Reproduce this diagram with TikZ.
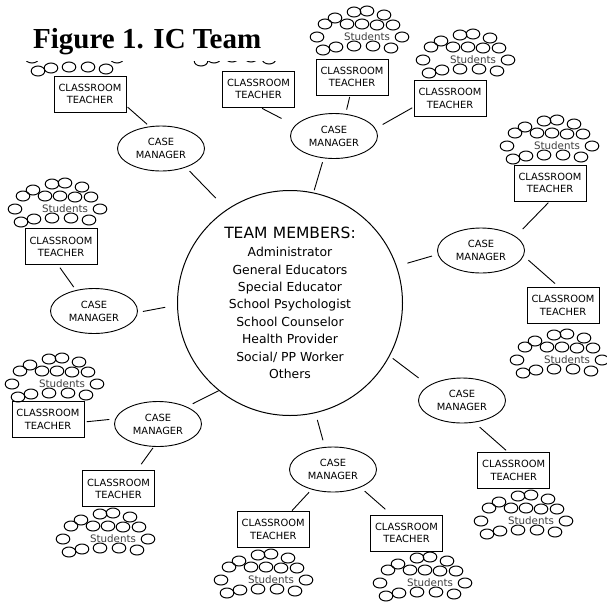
\documentclass[tikz,border=0pt]{standalone}
\usepackage{fontspec}
\setsansfont{DejaVu Sans}
\newfontfamily\titlefont{Liberation Serif}
\usetikzlibrary{shapes.geometric}
\tikzset{
  casemgr/.style={ellipse, draw, line width=0.9pt, minimum width=87pt, minimum height=45pt,
    inner sep=0pt, outer sep=0pt, align=center, font=\sffamily\fontsize{9.9}{13}\selectfont},
  teacherbox/.style={rectangle, draw, line width=0.9pt, minimum width=72pt, minimum height=36pt,
    inner sep=0pt, outer sep=0pt, align=center, font=\sffamily\fontsize{9.9}{12.5}\selectfont},
  link/.style={line width=0.9pt},
  stu/.style={line width=1pt},
  seats/.pic={
    \foreach \dx/\dy in {-13/-25,0/-26,17/-22,
                         -42/-13,-32/-19,-20/-13,-5/-13,10/-12,26/-12,
                         -50/0,35/0,
                         -44/13,-31/10,-13/9,6/9,24/11}
      \draw[stu] (\dx,\dy) ellipse [x radius=6.8pt, y radius=5pt];
  },
  students/.pic={
    \pic {seats};
    \node[inner sep=0pt, text=black!75, font=\sffamily\fontsize{10.3}{12}\selectfont] (-t) at (0,0) {Students};
  }
}
\begin{document}
\begin{tikzpicture}[x=1pt,y=-1pt]
\useasboundingbox (0,0) rectangle (607,603);

% student groups (the two top-left ones are mostly hidden by the title band)
\pic (s1) at (82,58) {seats};
\pic (s2) at (245,48) {seats};
\pic (s3) at (367,37) {students};
\pic (s4) at (473,60) {students};
\pic (s5) at (557,146) {students};
\pic (s6) at (567,360) {students};
\pic (s7) at (65,209) {students};
\pic (s8) at (62,384) {students};
\pic (s9) at (113,539) {students};
\pic (s10) at (271,580) {students};
\pic (s11) at (430,583) {students};
\pic (s12) at (531,521) {students};

% title band
\fill[white] (0,0) rectangle (300,60.5);
\node[anchor=base west, inner sep=0pt, font=\titlefont\bfseries\fontsize{29}{34}\selectfont] (title) at (33,48) {Figure 1. IC Team};

% central circle
\node[circle, draw, line width=1pt, minimum size=225pt, inner sep=0pt, outer sep=0pt, align=center,
      font=\sffamily\fontsize{12.4}{17.4}\selectfont] (team) at (290,303)
  {{\fontsize{15.5}{17.4}\selectfont TEAM\hspace{0.35em}MEMBERS:}\\[0.6pt]
   Administrator\\ General Educators\\ Special Educator\\ School Psychologist\\
   School Counselor\\ Health Provider\\ Social/ PP Worker\\ Others};

% case managers
\node[casemgr] (cm1) at (161,148.5) {CASE\\MANAGER};
\node[casemgr] (cm2) at (334,136) {CASE\\MANAGER};
\node[casemgr] (cm3) at (481,250.5) {CASE\\MANAGER};
\node[casemgr] (cm4) at (94,311) {CASE\\MANAGER};
\node[casemgr] (cm5) at (158,424) {CASE\\MANAGER};
\node[casemgr] (cm6) at (333,469.5) {CASE\\MANAGER};
\node[casemgr] (cm7) at (462,400.5) {CASE\\MANAGER};

% classroom teachers
\node[teacherbox] (ct1) at (90,94) {CLASSROOM\\TEACHER};
\node[teacherbox] (ct2) at (258.5,89) {CLASSROOM\\TEACHER};
\node[teacherbox] (ct3) at (352,77) {CLASSROOM\\TEACHER};
\node[teacherbox] (ct4) at (450,98.5) {CLASSROOM\\TEACHER};
\node[teacherbox] (ct5) at (550,183) {CLASSROOM\\TEACHER};
\node[teacherbox] (ct6) at (563,305.5) {CLASSROOM\\TEACHER};
\node[teacherbox] (ct7) at (61,246.7) {CLASSROOM\\TEACHER};
\node[teacherbox] (ct8) at (48,419.5) {CLASSROOM\\TEACHER};
\node[teacherbox] (ct9) at (118.5,488.7) {CLASSROOM\\TEACHER};
\node[teacherbox] (ct10) at (273.2,529.5) {CLASSROOM\\TEACHER};
\node[teacherbox] (ct11) at (406.5,533) {CLASSROOM\\TEACHER};
\node[teacherbox] (ct12) at (513.7,470.5) {CLASSROOM\\TEACHER};

% connectors: case managers to team
\draw[link, shorten <=5.6pt, shorten >=16.2pt] (cm1.-37.2) -- (team.124.6);
\draw[link, shorten <=4.5pt, shorten >=2.8pt] (cm2.245.2) -- (team.78.5);
\draw[link, shorten <=6.4pt, shorten >=11.5pt] (cm3.185.8) -- (team.19.3);
\draw[link, shorten <=5.6pt, shorten >=12.5pt] (cm4.-2.3) -- (team.181.4);
\draw[link, shorten <=7.1pt, shorten >=0.6pt] (cm5.31.7) -- (team.231.1);
\draw[link, shorten <=7.4pt, shorten >=7.6pt] (cm6.110.8) -- (team.283);
\draw[link, shorten <=13.1pt, shorten >=4.3pt] (cm7.156) -- (team.-28.1);

% connectors: teachers to case managers
\draw[link, shorten <=2.1pt, shorten >=3.7pt] (ct1.-18.9) -- (cm1.117.5);
\draw[link, shorten <=3pt, shorten >=15.6pt] (ct2.-87.3) -- (cm2.165.5);
\draw[link, shorten <=2pt, shorten >=4.8pt] (ct3.264.3) -- (cm2.62.2);
\draw[link, shorten <=2pt, shorten >=8.6pt] (ct4.193.3) -- (cm2.10.7);
\draw[link, shorten <=10.6pt, shorten >=2.3pt] (cm3.22.2) -- (ct5.-90);
\draw[link, shorten <=6.8pt, shorten >=5.9pt] (cm3.-7) -- (ct6.101.2);
\draw[link, shorten <=3.7pt, shorten >=4.2pt] (ct7.260.3) -- (cm4.131.1);
\draw[link, shorten <=6.3pt, shorten >=2.7pt] (cm5.173.3) -- (ct8.-4.8);
\draw[link, shorten <=1.9pt, shorten >=8pt] (cm5.260.7) -- (ct9.45.6);
\draw[link, shorten <=4.2pt, shorten >=1.2pt] (cm6.223.8) -- (ct10.45.5);
\draw[link, shorten <=6.1pt, shorten >=8.7pt] (cm6.-33.3) -- (ct11.129.7);
\draw[link, shorten <=7.6pt, shorten >=3.3pt] (cm7.-61.6) -- (ct12.106.8);
\end{tikzpicture}
\end{document}
